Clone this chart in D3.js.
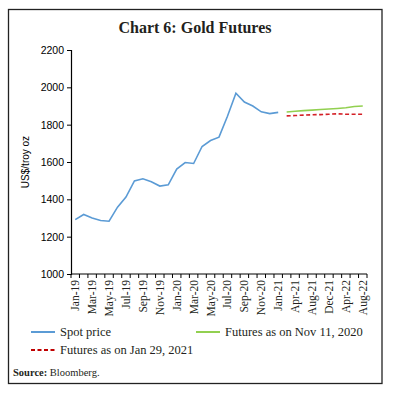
<!DOCTYPE html>
<html>
<head>
<meta charset="utf-8">
<script src="https://cdn.jsdelivr.net/npm/d3@7"></script>
<style>
body { margin: 0; background: #fff; }
</style>
</head>
<body>
<svg width="393" height="395"></svg>
<script>
var months = ["Jan-19","Feb-19","Mar-19","Apr-19","May-19","Jun-19","Jul-19","Aug-19","Sep-19","Oct-19","Nov-19","Dec-19",
              "Jan-20","Feb-20","Mar-20","Apr-20","May-20","Jun-20","Jul-20","Aug-20","Sep-20","Oct-20","Nov-20","Dec-20",
              "Jan-21","Feb-21","Apr-21","Jun-21","Aug-21","Oct-21","Dec-21","Feb-22","Apr-22","Jun-22","Aug-22"]

var spot_months = months.slice(0, 25)
var spot = [1291,1319,1300,1287,1283,1358,1412,1499,1510,1494,1471,1478,
            1562,1597,1592,1683,1715,1733,1845,1968,1921,1900,1869,1859,1866]

var fut_months = months.slice(25)
var fut_nov = [1868,1872,1875,1878,1881,1884,1887,1891,1897,1900]
var fut_jan = [1847,1849,1851,1853,1854,1856,1858,1856,1856,1856]

var y_ticks = [1000,1200,1400,1600,1800,2000,2200]
var x_labels = ["Jan-19","Mar-19","May-19","Jul-19","Sep-19","Nov-19","Jan-20","Mar-20","May-20","Jul-20","Sep-20","Nov-20",
                "Jan-21","Apr-21","Aug-21","Dec-21","Apr-22","Aug-22"]

var serif = "'Liberation Serif', 'DejaVu Serif', serif"
var sans = "'Liberation Sans', Arial, sans-serif"

var svg = d3.select("svg")

// outer frame
svg.append("rect")
  .attr("x", 8.5).attr("y", 9.5)
  .attr("width", 373.5).attr("height", 374)
  .attr("fill", "none")
  .attr("stroke", "#222")
  .attr("stroke-width", 1.3)

svg.append("text")
  .attr("x", 195).attr("y", 33)
  .attr("text-anchor", "middle")
  .attr("font-family", serif)
  .attr("font-weight", "bold")
  .attr("font-size", 16)
  .attr("fill", "#231f20")
  .text("Chart 6: Gold Futures")

var x = d3.scaleBand().domain(months).range([71, 367]).padding(0)
var y = d3.scaleLinear().domain([1000, 2200]).range([274, 50])

/* axes */
var gy = svg.append("g").attr("transform", "translate(71,0)")
  .call(d3.axisLeft(y).tickValues(y_ticks).tickSize(4).tickPadding(3).tickFormat(d3.format("d")))
gy.select(".domain").attr("stroke", "#000").attr("stroke-width", 1.2)
gy.selectAll(".tick line").attr("stroke", "#000")
gy.selectAll("text").attr("font-family", sans).attr("font-size", 10.5).attr("fill", "#000")

svg.append("text")
  .attr("transform", "translate(29,162) rotate(-90)")
  .attr("text-anchor", "middle")
  .attr("font-family", sans)
  .attr("font-size", 10)
  .attr("fill", "#000")
  .text("US$/troy oz")

svg.append("line")
  .attr("x1", 71).attr("x2", 367)
  .attr("y1", 274).attr("y2", 274)
  .attr("stroke", "#000").attr("stroke-width", 1.2)

var bounds = months.map(function(m){ return x(m) }).concat([x(months[months.length-1]) + x.bandwidth()])
svg.append("g").selectAll("line")
  .data(bounds)
  .enter()
  .append("line")
  .attr("x1", function(d){ return d }).attr("x2", function(d){ return d })
  .attr("y1", 274).attr("y2", 278)
  .attr("stroke", "#000")

svg.append("g").selectAll("text")
  .data(x_labels)
  .enter()
  .append("text")
  .attr("transform", function(d){ return "translate(" + (x(d) + x.bandwidth()/2 + 4) + ",280) rotate(-90)" })
  .attr("text-anchor", "end")
  .attr("font-family", serif)
  .attr("font-size", 11.5)
  .attr("fill", "#231f20")
  .text(function(d){ return d })

/* lines */
function draw_line(cats, vals, color, dash){
  var line = d3.line()
    .x(function(d, i){ return x(cats[i]) + x.bandwidth()/2 })
    .y(function(d){ return y(d) })
  svg.append("path")
    .datum(vals)
    .attr("d", line)
    .attr("fill", "none")
    .attr("stroke", color)
    .attr("stroke-width", 1.6)
    .attr("stroke-dasharray", dash)
}
draw_line(spot_months, spot, "#5b9bd5", null)
draw_line(fut_months, fut_nov, "#92d050", null)
draw_line(fut_months, fut_jan, "#d42027", "4,2.5")

/* legend */
var legend = [
  {name: "Spot price", color: "#5b9bd5", dash: null, x: 31, y: 332},
  {name: "Futures as on Nov 11, 2020", color: "#92d050", dash: null, x: 196, y: 332},
  {name: "Futures as on Jan 29, 2021", color: "#c00000", dash: "4,2.5", x: 31, y: 350}
]
var lg = svg.append("g").selectAll("g").data(legend).enter().append("g")
lg.append("line")
  .attr("x1", function(d){ return d.x }).attr("x2", function(d){ return d.x + 24 })
  .attr("y1", function(d){ return d.y }).attr("y2", function(d){ return d.y })
  .attr("stroke", function(d){ return d.color })
  .attr("stroke-width", 2)
  .attr("stroke-dasharray", function(d){ return d.dash })
lg.append("text")
  .attr("x", function(d){ return d.x + 29 })
  .attr("y", function(d){ return d.y + 4 })
  .attr("font-family", serif)
  .attr("font-size", 12.5)
  .attr("fill", "#231f20")
  .text(function(d){ return d.name })

var src = svg.append("text")
  .attr("x", 13).attr("y", 376)
  .attr("font-family", serif)
  .attr("font-size", 10.5)
  .attr("fill", "#231f20")
src.append("tspan").attr("font-weight", "bold").text("Source: ")
src.append("tspan").text("Bloomberg.")
</script>
</body>
</html>
